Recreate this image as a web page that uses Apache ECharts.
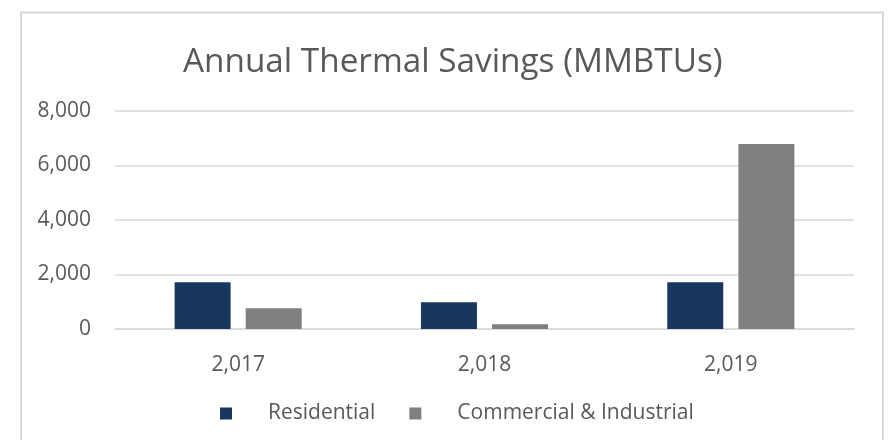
<!DOCTYPE html>
<html>
<head>
<meta charset="utf-8">
<script src="https://cdn.jsdelivr.net/npm/echarts@6/dist/echarts.min.js"></script>
<style>
html,body{margin:0;padding:0;background:#fff;}
#chart{width:889px;height:440px;}
</style>
</head>
<body>
<div id="chart"></div>
<script>
const categories = ['2,017', '2,018', '2,019'];
const residential = [1720, 980, 1720];
const commercial = [760, 175, 6790];
const yTicks = [0, 2000, 4000, 6000, 8000];

const chart = echarts.init(document.getElementById('chart'));
const FONT = 'Open Sans';
chart.setOption({
  animation: false,
  backgroundColor: '#ffffff',
  graphic: [{
    type: 'rect',
    shape: { x: 21, y: 12.5, width: 862, height: 440 },
    style: { fill: 'none', stroke: '#D9D9D9', lineWidth: 2 },
    silent: true
  }],
  title: {
    text: 'Annual Thermal Savings (MMBTUs)',
    left: 178,
    top: 41,
    textStyle: { fontFamily: FONT, fontWeight: 'normal', fontSize: 33.3, color: '#595959' }
  },
  legend: {
    data: ['Residential', 'Commercial & Industrial'],
    left: 215,
    top: 398,
    icon: 'rect',
    itemWidth: 12,
    itemHeight: 12,
    itemGap: 34,
    textStyle: { fontFamily: FONT, fontSize: 21, color: '#595959', padding: [0, 0, 0, 31] }
  },
  grid: { left: 115, right: 35, top: 111, bottom: 111 },
  xAxis: {
    type: 'category',
    data: categories,
    axisLine: { lineStyle: { color: '#D9D9D9', width: 1.5 } },
    axisTick: { show: false },
    axisLabel: { fontFamily: FONT, fontSize: 21, color: '#595959', margin: 26 }
  },
  yAxis: {
    type: 'value',
    min: yTicks[0],
    max: yTicks[yTicks.length - 1],
    interval: 2000,
    axisLine: { show: false },
    axisTick: { show: false },
    splitLine: { lineStyle: { color: '#D9D9D9', width: 1.5 } },
    axisLabel: {
      fontFamily: FONT, fontSize: 21, color: '#595959', margin: 24,
      formatter: v => v.toLocaleString('en-US')
    }
  },
  series: [
    {
      name: 'Residential', type: 'bar', data: residential,
      barWidth: 56, barGap: '27%',
      itemStyle: { color: '#17375E' }
    },
    {
      name: 'Commercial & Industrial', type: 'bar', data: commercial,
      barWidth: 56,
      itemStyle: { color: '#7F7F7F' }
    }
  ]
});
</script>
</body>
</html>
